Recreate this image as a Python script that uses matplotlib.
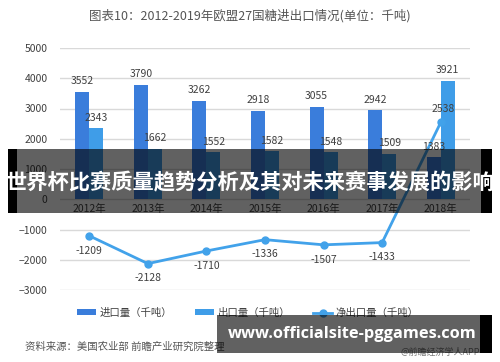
import matplotlib
matplotlib.use("Agg")
import matplotlib.pyplot as plt
import numpy as np
from matplotlib.patches import Rectangle

plt.rcParams['font.family'] = ['Noto Sans CJK SC', 'DejaVu Sans']

# données
years = ["2012年", "2013年", "2014年", "2015年", "2016年", "2017年", "2018年"]
imports = [3552, 3790, 3262, 2918, 3055, 2942, 1383]
exports = [2343, 1662, 1552, 1582, 1548, 1509, 3921]
net = [-1209, -2128, -1710, -1336, -1507, -1433, 2538]
yticks = [5000, 4000, 3000, 2000, 1000, 0, -1000, -2000, -3000]

c_imp = "#3a7ddb"
c_exp = "#3f9de8"
c_net = "#42a2ea"
txt = "#404040"

W, H = 500, 362
fig = plt.figure(figsize=(W / 100, H / 100), dpi=100)

def px(x0, y0, x1, y1):
    # pixels -> fraction de figure (origine en haut à gauche)
    return [x0 / W, 1 - y1 / H, (x1 - x0) / W, (y1 - y0) / H]

def rect(x0, y0, x1, y1, **kw):
    l, b, w, h = px(x0, y0, x1, y1)
    fig.add_artist(Rectangle((l, b), w, h, transform=fig.transFigure, lw=0, zorder=10, **kw))

ax = fig.add_axes(px(60, 48, 470, 290))
x = np.arange(len(years))
bw = 0.24

b1 = ax.bar(x - bw / 2, imports, width=bw, color=c_imp, zorder=2, label="进口量（千吨）")
b2 = ax.bar(x + bw / 2, exports, width=bw, color=c_exp, zorder=2, label="出口量（千吨）")
l1, = ax.plot(x, net, color=c_net, lw=2, marker="o", ms=5, zorder=3, label="净出口量（千吨）")

for i in range(len(years)):
    ax.annotate(str(imports[i]), (x[i] - bw / 2, imports[i]), xytext=(0, 4),
                textcoords="offset points", ha="center", va="bottom", fontsize=7.5, color=txt)
    ax.annotate(str(exports[i]), (x[i] + bw / 2, exports[i]), xytext=(0, 4),
                textcoords="offset points", ha="center", va="bottom", fontsize=7.5, color=txt)
    if net[i] < 0:
        ax.annotate(str(net[i]), (x[i], net[i]), xytext=(0, -7),
                    textcoords="offset points", ha="center", va="top", fontsize=7.5, color=txt)
    else:
        ax.annotate(str(net[i]), (x[i], net[i]), xytext=(2, 6),
                    textcoords="offset points", ha="center", va="bottom", fontsize=7.5, color=txt)

ax.set_xlim(-0.5, len(years) - 0.5)
ax.set_ylim(-3000, 5000)
ax.set_yticks(yticks)
ax.set_xticks(x)
ax.set_xticklabels(years)
ax.spines["bottom"].set_position(("data", 0))
for s in ax.spines.values():
    s.set_visible(False)
ax.tick_params(axis="both", length=0, labelsize=7.5, labelcolor=txt)
ax.tick_params(axis="y", pad=9)
ax.tick_params(axis="x", pad=3)
ax.grid(axis="y", color="#d9d9d9", lw=1, zorder=0)
ax.set_axisbelow(True)

fig.text(0.5, 1 - 16 / H, "图表10：2012-2019年欧盟27国糖进出口情况(单位：千吨)",
         ha="center", va="center", fontsize=9, color="#555555")

ax.legend([b1, b2, l1], ["进口量（千吨）", "出口量（千吨）", "净出口量（千吨）"],
          loc="center", bbox_to_anchor=(0.496, (H - 313) / H), bbox_transform=fig.transFigure,
          ncol=3, frameon=False, fontsize=7.5, labelcolor=txt, handlelength=1.8,
          handleheight=0.5, columnspacing=2.2, handletextpad=0.35)

fig.text(25 / W, 1 - 347 / H, "资料来源：美国农业部 前瞻产业研究院整理", ha="left", va="center",
         fontsize=7.5, color="#555555", style="italic")
fig.text(480 / W, 1 - 352 / H, "@前瞻经济学人APP", ha="right", va="center",
         fontsize=6.5, color="#777777")

# bandeau superposé
rect(17, 149, 481, 213, color="black", alpha=0.62)
rect(8, 149, 17, 213, color="black")
rect(481, 149, 492, 213, color="black")
fig.text(250 / W, 1 - 183 / H, "世界杯比赛质量趋势分析及其对未来赛事发展的影响", ha="center", va="center",
         fontsize=15.3, color="white", fontweight="bold", zorder=11)

# boîte url
rect(217, 315, 480, 353, color="black", alpha=0.62)
rect(480, 315, 492, 353, color="black")
fig.text(352 / W, 1 - 334 / H, "www.officialsite-pggames.com", ha="center", va="center",
         fontsize=11.8, color="white", fontweight="bold", family="Open Sans", zorder=11)

fig.savefig("out.png", dpi=100)
